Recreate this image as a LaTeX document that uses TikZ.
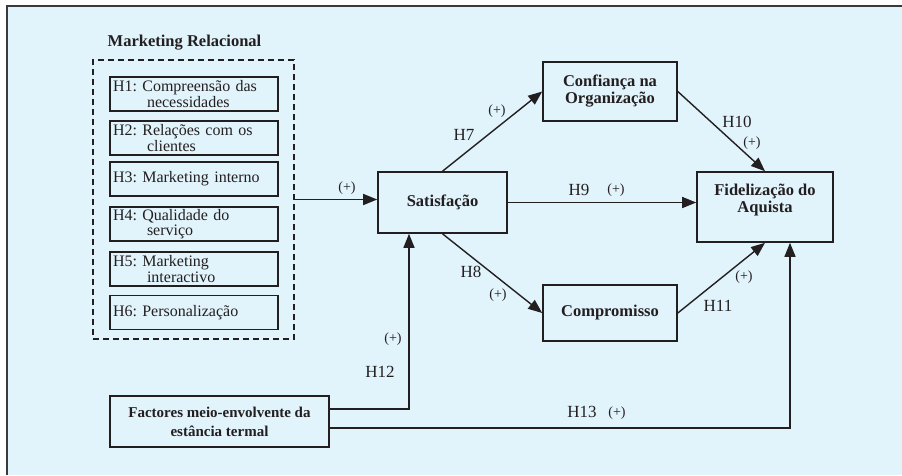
\documentclass[tikz,border=0pt]{standalone}
\usepackage{fontspec}
\setmainfont{Liberation Serif}
\usetikzlibrary{arrows.meta}
\frenchspacing
\definecolor{bgblue}{HTML}{E1F3FB}
\definecolor{ink}{HTML}{231F20}
\definecolor{frame}{HTML}{3A3A3A}
\tikzset{
  hbox/.style={draw=ink, line width=1.6pt, minimum width=168pt, minimum height=34pt,
    text width=162pt, inner xsep=3pt, inner ysep=0pt, align=left,
    font=\fontsize{16}{15.5}\selectfont, text=ink},
  bbox/.style={draw=ink, line width=1.6pt, align=center,
    font=\fontsize{16.5}{17}\selectfont\bfseries, text=ink, inner sep=0pt},
  conn/.style={draw=ink, line width=1.4pt, -{Triangle[length=14pt,width=11pt]}},
  hlab/.style={font=\fontsize{17}{17}\selectfont, text=ink, inner sep=0pt},
  plab/.style={font=\fontsize{14}{14}\selectfont, text=ink, inner sep=0pt},
}
\begin{document}
\begin{tikzpicture}[x=1pt,y=-1pt]
\useasboundingbox (0,0) rectangle (902,475);
\fill[white] (0,0) rectangle (902,475);
\fill[bgblue] (7,6) rectangle (902,475);
\draw[frame, line width=2pt] (7,475) -- (7,6) -- (902,6);

% Marketing Relacional group
\node[font=\fontsize{16.5}{16.5}\selectfont\bfseries, text=ink, inner sep=0pt] (mrt) at (184.5,43) {Marketing Relacional};
\node[draw=ink, line width=1.6pt, dash pattern=on 6pt off 4pt, minimum width=201pt, minimum height=279pt, inner sep=0pt] (mr) at (193.5,199.5) {};
\node[hbox] (h1) at (194,94) {H1: Compreensão das\\\hspace*{34pt}necessidades};
\node[hbox] (h2) at (194,138) {H2: Relações com os\\\hspace*{34pt}clientes};
\node[hbox] (h3) at (194,179) {H3: Marketing interno};
\node[hbox] (h4) at (194,224) {H4: Qualidade do\\\hspace*{34pt}serviço};
\node[hbox] (h5) at (194,269) {H5: Marketing\\\hspace*{34pt}interactivo};
\node[hbox] (h6) at (194,312.5) {H6: Personalização};

% Main constructs
\node[bbox, minimum width=129pt, minimum height=61pt] (sat) at (442.5,202.5) {Satisfação};
\node[bbox, minimum width=134pt, minimum height=59pt] (conf) at (610,91.5) {Confiança na\\Organização};
\node[bbox, minimum width=136pt, minimum height=70pt] (fid) at (765,207) {};
\node[bbox, draw=none, fill=none] (fidt) at (765,200) {Fidelização do\\Aquista};
\node[bbox, minimum width=134pt, minimum height=56pt] (comp) at (610,313) {Compromisso};
\node[bbox, minimum width=219pt, minimum height=51pt, font=\fontsize{15}{19}\selectfont\bfseries] (fac) at (219.5,421.5) {Factores meio-envolvente da\\estância termal};

% Connectors
\draw[conn] (mr.east) -- (mr.east -| sat.west);
\draw[conn] (sat.north) -- (conf.west);
\draw[conn] (sat.east) -- (sat.east -| fid.west);
\draw[conn] (sat.south) -- (comp.west);
\draw[conn] (conf.east) -- (fid.north);
\draw[conn] (comp.east) -- (fid.south);
\draw[conn] ([yshift=12.5pt]fac.east) -| ([xshift=-33.5pt]sat.south);
\draw[conn] ([yshift=-6.5pt]fac.east) -| ([xshift=25pt]fid.south);

% Labels
\node[plab] (p0) at (347,188) {(+)};
\node[hlab] (l7) at (464,135) {H7};
\node[plab] (p7) at (497,111) {(+)};
\node[hlab] (l9) at (579,190) {H9};
\node[plab] (p9) at (616,190) {(+)};
\node[hlab] (l10) at (737,122) {H10};
\node[plab] (p10) at (752,143) {(+)};
\node[hlab] (l8) at (471,272) {H8};
\node[plab] (p8) at (498,295) {(+)};
\node[hlab] (l11) at (718,306) {H11};
\node[plab] (p11) at (744,277) {(+)};
\node[hlab] (l12) at (380,372) {H12};
\node[plab] (p12) at (393,339) {(+)};
\node[hlab] (l13) at (582,412) {H13};
\node[plab] (p13) at (617,413) {(+)};
\end{tikzpicture}
\end{document}
